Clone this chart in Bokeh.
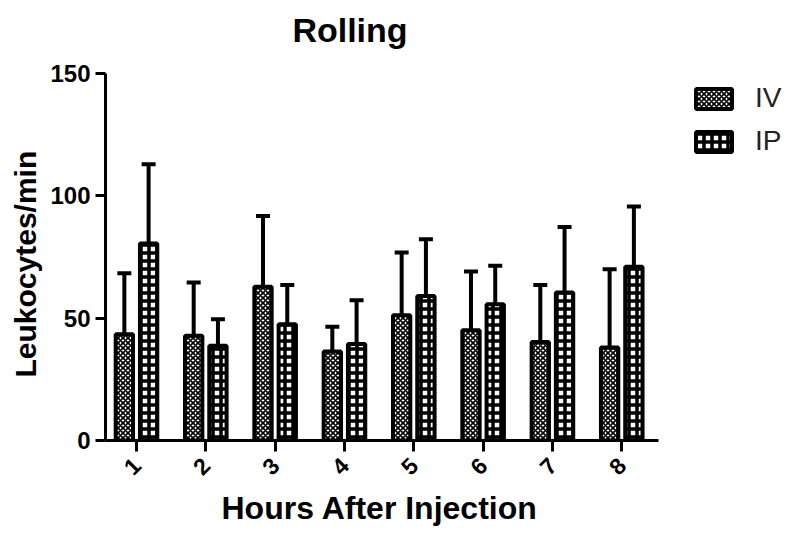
import math
from bokeh.plotting import figure
from bokeh.models import (Range1d, FixedTicker, Whisker, ColumnDataSource, Legend,
                          LegendItem, TeeHead, Title, Label)
from bokeh.transform import dodge
from bokeh.embed import file_html
from bokeh.resources import INLINE

# ---- data ----
hours = [1, 2, 3, 4, 5, 6, 7, 8]
hour_labels = ["1", "2", "3", "4", "5", "6", "7", "8"]
iv_mean = [43.4, 42.8, 62.8, 36.4, 51.2, 45.1, 40.3, 38.0]
iv_err = [25.0, 21.8, 29.0, 10.1, 25.6, 24.0, 23.3, 32.0]
ip_mean = [80.5, 38.7, 47.5, 39.4, 59.1, 55.7, 60.5, 71.0]
ip_err = [32.4, 10.9, 16.1, 17.9, 23.2, 15.7, 26.8, 24.6]
series_names = ["IV", "IP"]
y_ticks = [0, 50, 100, 150]
Y_MAX = 150

src = ColumnDataSource(dict(
    hour=hours,
    iv=iv_mean, iv_up=[m + e for m, e in zip(iv_mean, iv_err)],
    ip=ip_mean, ip_up=[m + e for m, e in zip(ip_mean, ip_err)],
))

FONT = "Liberation Sans"

# ---- layout (pixels) ----
B_LEFT, B_BOTTOM = 104, 92
FRAME_W, FRAME_H = 680, 440            # frame spans to the top/right canvas edges
AX_START, AX_END = 0.553, 8.53         # visible x axis extent (data)
AXIS_PX_X = 553                        # pixel length of visible x axis
AXIS_PX_Y = 367                        # pixel length of visible y axis (0..150)
pxx = AXIS_PX_X / (AX_END - AX_START)
pxy = AXIS_PX_Y / Y_MAX
x_end = AX_START + FRAME_W / pxx
y_end = FRAME_H / pxy

p = figure(frame_width=FRAME_W, frame_height=FRAME_H, output_backend="svg",
           toolbar_location=None,
           x_range=Range1d(AX_START, x_end), y_range=Range1d(0, y_end),
           min_border_left=B_LEFT, min_border_right=0, min_border_top=0,
           min_border_bottom=B_BOTTOM)
p.outline_line_color = None
p.grid.visible = False
p.background_fill_color = "white"

off = 0.175
bw = 0.25
r_iv = p.vbar(x=dodge("hour", -off), top="iv", width=bw, source=src,
              fill_color="white", line_color="black", line_width=4,
              hatch_pattern="diagonal_cross", hatch_color="black",
              hatch_scale=5, hatch_weight=1.6)
r_ip = p.vbar(x=dodge("hour", off), top="ip", width=bw, source=src,
              fill_color="white", line_color="black", line_width=4,
              hatch_pattern="cross", hatch_color="black",
              hatch_scale=8, hatch_weight=3.5)

for col, up, xo in (("iv", "iv_up", -off), ("ip", "ip_up", off)):
    w = Whisker(base=dodge("hour", xo), lower=col, upper=up, source=src,
                line_color="black", line_width=4, lower_head=None,
                upper_head=TeeHead(size=14, line_width=4, line_color="black"))
    p.add_layout(w)

# ---- axes ----
for ax in (p.xaxis[0], p.yaxis[0]):
    ax.axis_line_width = 3
    ax.axis_line_color = "black"
    ax.major_tick_line_width = 3
    ax.major_tick_line_color = "black"
    ax.major_tick_in = 0
    ax.minor_tick_line_color = None
    ax.major_label_text_font = FONT
    ax.major_label_text_font_style = "bold"
    ax.major_label_text_color = "black"

p.xaxis.bounds = (AX_START, AX_END)
p.xaxis.ticker = FixedTicker(ticks=hours)
p.xaxis.major_label_overrides = {h: l for h, l in zip(hours, hour_labels)}
p.xaxis.major_label_orientation = math.pi / 4
p.xaxis.major_label_text_font_size = "23px"
p.xaxis.major_label_standoff = 10
p.xaxis.major_tick_out = 11

p.yaxis.bounds = (0, Y_MAX)
p.yaxis.ticker = FixedTicker(ticks=y_ticks)
p.yaxis.major_label_text_font_size = "24px"
p.yaxis.major_label_standoff = 5
p.yaxis.major_tick_out = 10

# axis titles
xt = Title(text="Hours After Injection", text_font=FONT, text_font_style="bold",
           text_font_size="32px", text_color="black", align="left",
           offset=116, standoff=4)
p.add_layout(xt, "below")

yt = Title(text="Leukocytes/min", text_font=FONT, text_font_style="bold",
           text_font_size="30px", text_color="black", align="left",
           offset=63, standoff=12)
p.add_layout(yt, "left")

# chart title, inside the (extended) frame
title = Label(x=AX_START + (356.5 - 112) / pxx, y=(448 - 37) / pxy, text="Rolling",
              text_font=FONT, text_font_style="bold", text_font_size="34px",
              text_color="black", text_align="center", text_baseline="alphabetic")
p.add_layout(title)

legend = Legend(items=[LegendItem(label=series_names[0], renderers=[r_iv]),
                       LegendItem(label=series_names[1], renderers=[r_ip])],
                location=(586, 283), orientation="vertical",
                border_line_color=None, background_fill_alpha=0,
                padding=0, margin=0, glyph_width=45, glyph_height=25,
                label_height=25, spacing=11, label_standoff=19,
                label_text_font=FONT, label_text_font_size="28px",
                label_text_color="#222222")
p.add_layout(legend)

open("out.html", "w").write(file_html(p, INLINE))
